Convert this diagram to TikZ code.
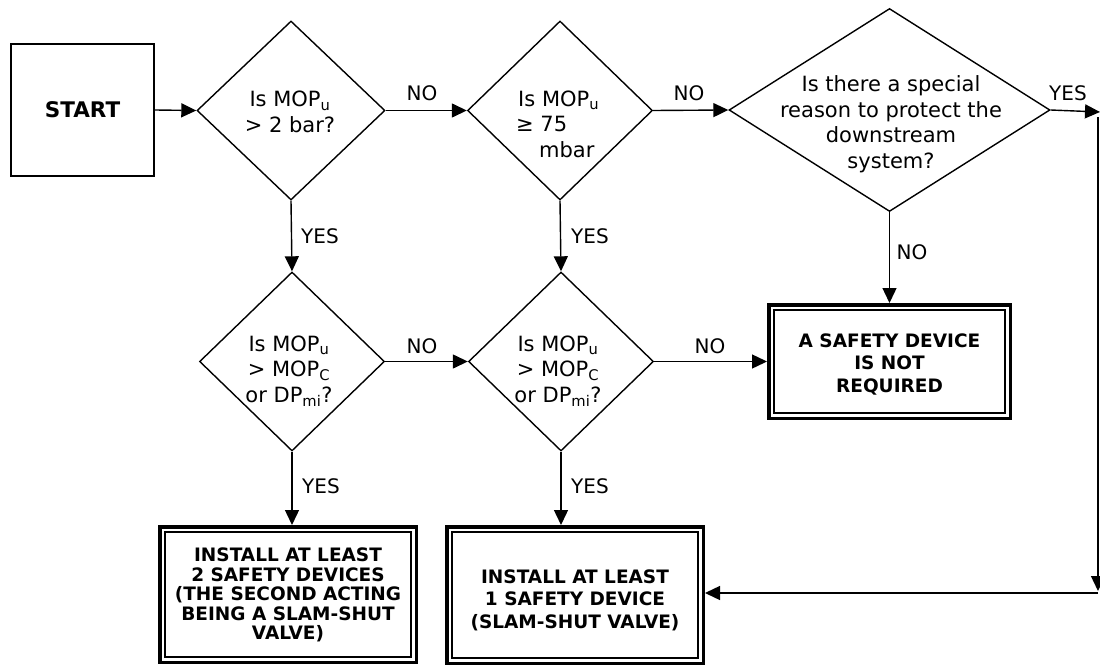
\documentclass[tikz,border=0pt]{standalone}
\usepackage{fontspec}
\setmainfont{DejaVu Sans}
\usetikzlibrary{shapes.geometric,arrows.meta}
\begin{document}
\begin{tikzpicture}[x=1pt,y=-1pt,
  dia/.style={diamond, draw, line width=1.4pt, inner sep=0pt},
  dtext/.style={align=center, inner sep=0pt, font=\fontsize{21}{25.5}\selectfont},
  lbl/.style={inner sep=0pt, font=\fontsize{20}{24}\selectfont},
  bbox/.style={draw, line width=3.5pt, align=center, inner sep=0pt},
  btext/.style={align=center, inner sep=0pt, font=\bfseries\fontsize{18.5}{22.5}\selectfont},
  arr/.style={line width=1.4pt, -{Triangle[length=15pt,width=14pt]}}
]
\useasboundingbox (0,0) rectangle (1100,669);

% start
\node[draw, line width=2pt, minimum width=143pt, minimum height=132pt,
      font=\bfseries\fontsize{21.5}{25}\selectfont] (start) at (82.5,110) {START};

% diamonds
\node[dia, minimum width=188pt, minimum height=179pt] (d1) at (291,110.5) {};
\node[dtext] (t1) at (290,112) {Is MOP\textsubscript{u}\\> 2 bar?};

\node[dia, minimum width=185pt, minimum height=179pt] (d2) at (560,110.5) {};
\node[dtext, align=left, anchor=west] (t2) at (516,124) {\hspace*{2pt}Is MOP\textsubscript{u}\\≥ 75\\\hspace*{23pt}mbar};

\node[dia, minimum width=321pt, minimum height=203pt] (d3) at (889.5,110) {};
\node[dtext] (t3) at (891,124) {Is there a special\\reason to protect the\\downstream\\system?};

\node[dia, minimum width=185pt, minimum height=179pt] (d4) at (292,361.5) {};
\node[dtext] (t4) at (289,371) {Is MOP\textsubscript{u}\\> MOP\textsubscript{C}\\or DP\textsubscript{mi}?};

\node[dia, minimum width=185pt, minimum height=179pt] (d5) at (561,361.5) {};
\node[dtext] (t5) at (558,371) {Is MOP\textsubscript{u}\\> MOP\textsubscript{C}\\or DP\textsubscript{mi}?};

% boxes
\node[bbox, minimum width=241.5pt, minimum height=113.5pt] (b0) at (889.5,361.5) {};
\node[btext] (bt0) at (889.5,364) {A SAFETY DEVICE\\IS NOT\\REQUIRED};

\node[bbox, minimum width=256.5pt, minimum height=135.5pt] (b1) at (288,594.5) {};
\node[btext, font=\bfseries\fontsize{18.5}{19.5}\selectfont] (bt1) at (288,595) {INSTALL AT LEAST\\2 SAFETY DEVICES\\(THE SECOND ACTING\\BEING A SLAM-SHUT\\VALVE)};

\node[bbox, minimum width=256.5pt, minimum height=136.5pt] (b2) at (575,595) {};
\node[btext] (bt2) at (575,600) {INSTALL AT LEAST\\1 SAFETY DEVICE\\(SLAM-SHUT VALVE)};

% inner lines of double boxes
\foreach \b in {b0,b1,b2}{
  \draw[line width=1.8pt] ([shift={(7pt,7pt)}]\b.south west) rectangle ([shift={(-7pt,-7pt)}]\b.north east);
}

% helper coordinates
\coordinate (c1) at (1100,112);
\coordinate (c2) at (1098,117);
\coordinate (c3) at (1098,591);
\coordinate (c4) at (1098,593);

% connectors
\draw[arr] (start.east) -- (d1.west);
\draw[arr] (d1.east) -- (d2.west);
\draw[arr] (d2.east) -- (d3.west);
\draw[arr] (d3.east) -- (c1);
\draw[arr] (c2) -- (c3);
\draw[arr] (c4) -- (c4 -| b2.east);
\draw[arr] (d1.south) -- (d4.north);
\draw[arr] (d2.south) -- (d5.north);
\draw[arr] (d4.east) -- (d5.west);
\draw[arr] (d5.east) -- (d5.east -| b0.west);
\draw[arr] (d3.south) -- (d3.south |- b0.north);
\draw[arr] (d4.south) -- (d4.south |- b1.north);
\draw[arr] (d5.south) -- (d5.south |- b2.north);

% labels
\node[lbl] (n1) at (422,93) {NO};
\node[lbl] (n2) at (689,93) {NO};
\node[lbl] (y3) at (1068,93) {YES};
\node[lbl] (y1) at (320,236) {YES};
\node[lbl] (y2) at (590,236) {YES};
\node[lbl] (n3) at (912,252) {NO};
\node[lbl] (n4) at (422,346) {NO};
\node[lbl] (n5) at (710,346) {NO};
\node[lbl] (y4) at (321,486) {YES};
\node[lbl] (y5) at (590,486) {YES};
\end{tikzpicture}
\end{document}
